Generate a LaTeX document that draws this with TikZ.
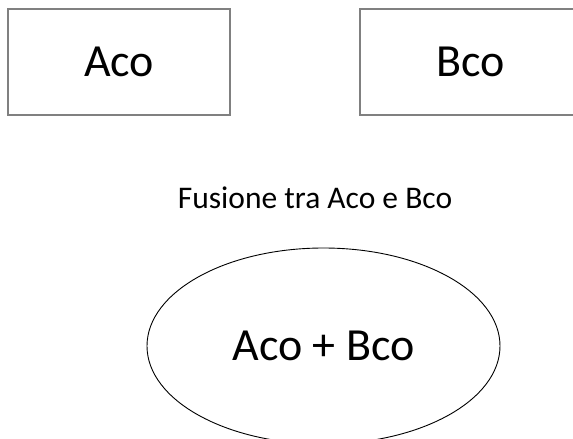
\documentclass[tikz,border=0pt]{standalone}
\usepackage{fontspec}
\setmainfont{Carlito}
\usepackage{tikz}
\usetikzlibrary{positioning, shapes.geometric}

\begin{document}
\begin{tikzpicture}[
    x=1pt, y=-1pt,
    block/.style={rectangle, draw=gray, line width=1.8pt, minimum width=222pt, minimum height=106pt, inner sep=0pt, font=\fontsize{46}{50}\selectfont},
    merged/.style={ellipse, draw=black, line width=0.9pt, minimum width=353pt, minimum height=196pt, inner sep=0pt, font=\fontsize{46}{50}\selectfont},
]
    \useasboundingbox (0,0) rectangle (573,439);
    \clip (0,0) rectangle (573,439);

    \node[block] (aco) at (119,62) {Aco};
    \node[block] (bco) at (471,62) {Bco};

    % merge caption
    \node[anchor=base, inner sep=0pt, font=\fontsize{31.5}{36}\selectfont] (caption) at (315,208) {Fusione tra Aco e Bco};

    \node[merged] (sum) at (323.5,346) {Aco + Bco};
\end{tikzpicture}
\end{document}
